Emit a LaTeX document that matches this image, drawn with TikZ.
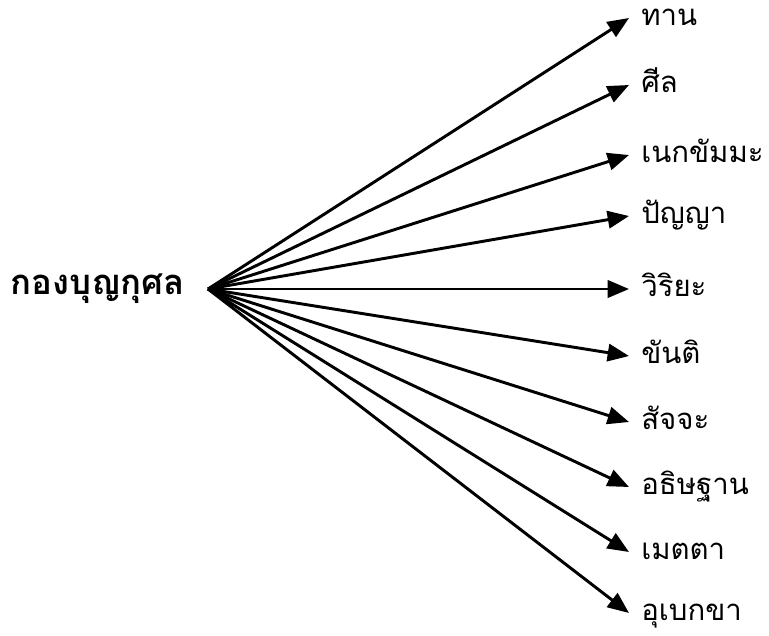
\documentclass[tikz,border=0pt]{standalone}
\usepackage{fontspec}
\usetikzlibrary{arrows.meta}
\newfontfamily\thaifont[Script=Thai]{Loma}

\begin{document}
\begin{tikzpicture}[
  x=0.75pt, y=-0.75pt,
  font=\thaifont,
  every node/.style={inner sep=0pt},
  head/.style={font=\thaifont\bfseries\fontsize{26}{29}\selectfont, anchor=east, inner xsep=17pt},
  leaf/.style={font=\thaifont\fontsize{22}{25}\selectfont, anchor=west, inner xsep=9pt, text height=1.3em, text depth=0.12em},
  edge/.style={line width=2.2pt, -{Triangle[length=16pt,width=13pt]}}
]
\useasboundingbox (0,0) rectangle (769,636);
\node[head] (src) at (208,289) {กองบุญกุศล};
\foreach \y/\name/\txt in {18/dana/ทาน, 85/sila/ศีล, 155/nek/เนกขัมมะ, 216/panna/ปัญญา,
    289/viriya/วิริยะ, 356/khanti/ขันติ, 422/sacca/สัจจะ, 487/adhit/อธิษฐาน,
    552/metta/เมตตา, 613/upek/อุเบกขา}
{
  \node[leaf] (\name) at (629,\y) {\txt};
  \draw[edge] (src.east) -- (\name.west);
}
\end{tikzpicture}
\end{document}
